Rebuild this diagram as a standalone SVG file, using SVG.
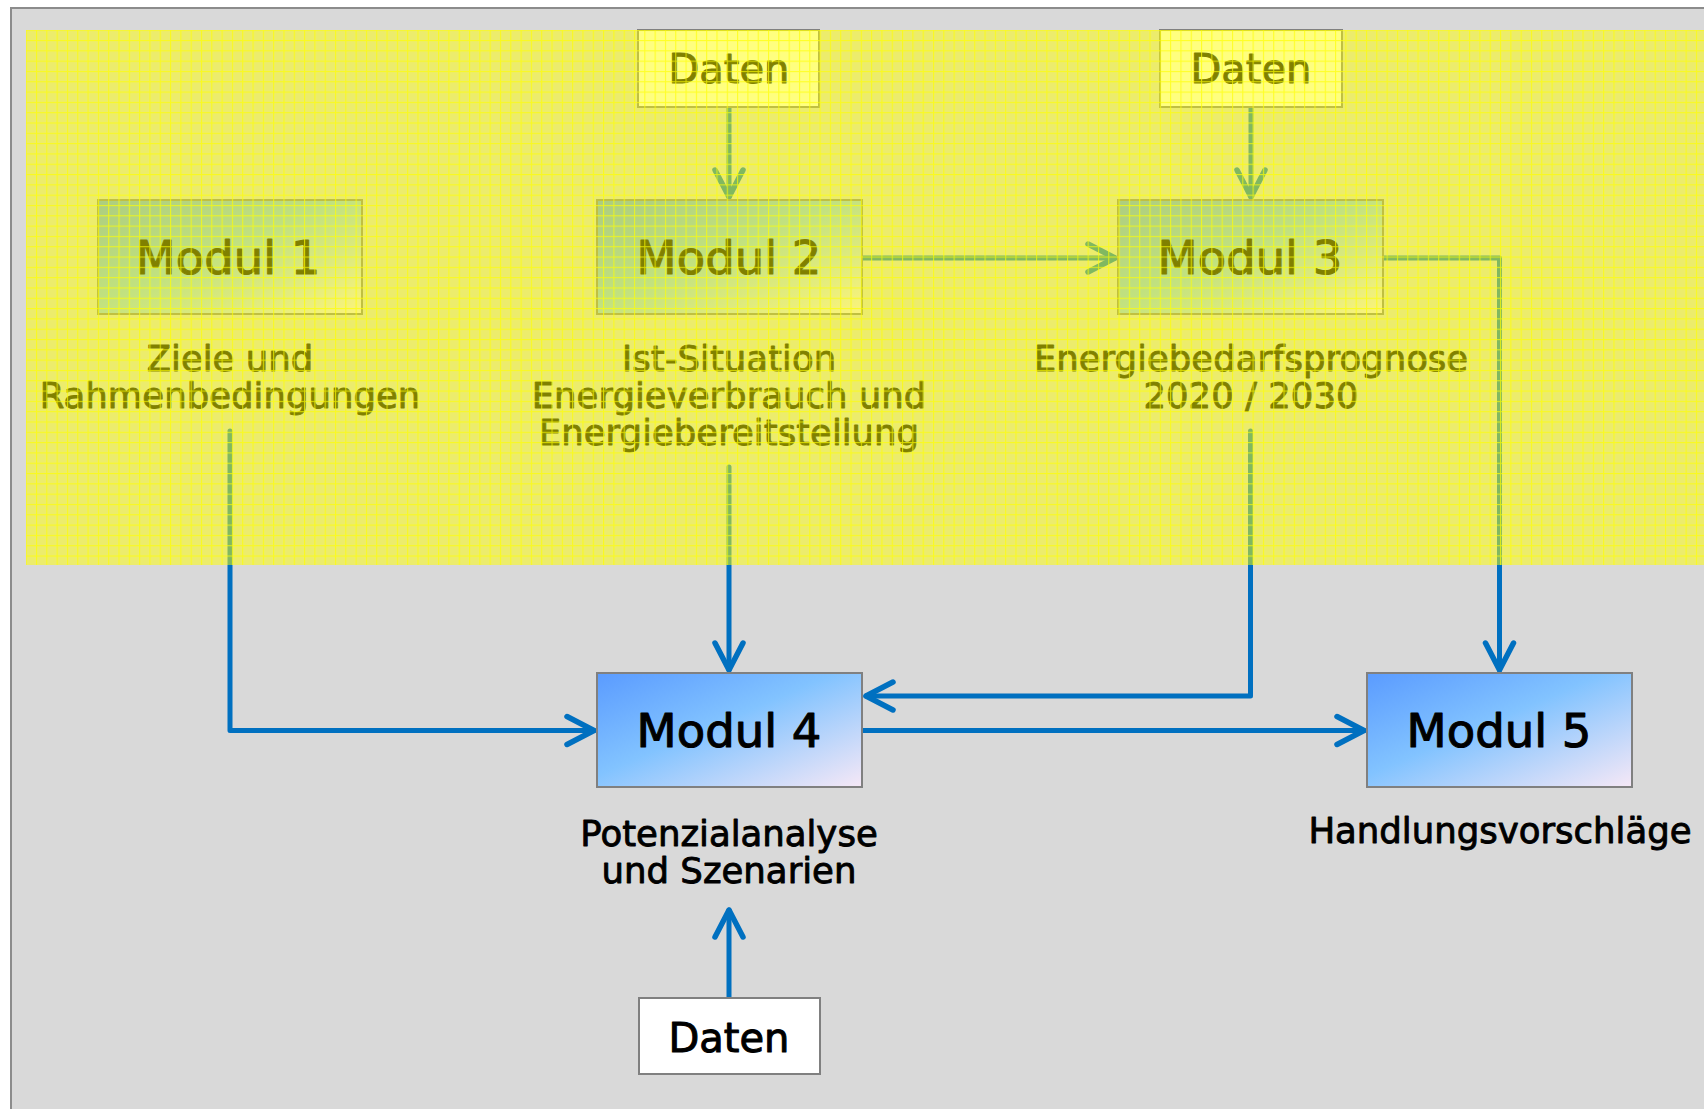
<svg xmlns="http://www.w3.org/2000/svg" width="1704" height="1109" viewBox="0 0 1704 1109">
  <style>
    .box { stroke: #808080; stroke-width: 2; }
    .mod { fill: url(#modGrad); }
    .dat { fill: #ffffff; }
    .t { font-family: "DejaVu Sans", "Open Sans", sans-serif; fill: #000000; stroke: #000000; stroke-width: 0.9; stroke-linejoin: round; text-anchor: middle; }
    .tm { font-size: 46.5px; stroke-width: 1.1; }
    .td { font-size: 40px; stroke-width: 1; }
    .tl { font-size: 35.5px; }
    .conn { fill: none; stroke: #0070c0; stroke-width: 5; stroke-linecap: round; stroke-linejoin: round; }
  </style>
  <defs>
    <linearGradient id="modGrad" x1="0" y1="0" x2="1" y2="1">
      <stop offset="0" stop-color="#5a9bff"/>
      <stop offset="0.45" stop-color="#82c3ff"/>
      <stop offset="1" stop-color="#f6e8f6"/>
    </linearGradient>
    <marker id="arr" viewBox="-32 -18 36 36" refX="0" refY="0" markerWidth="36" markerHeight="36" markerUnits="userSpaceOnUse" orient="auto">
      <path d="M-27,-14 L0,0 L-27,14" fill="none" stroke="#0070c0" stroke-width="5.5" stroke-linecap="round" stroke-linejoin="round"/>
    </marker>
    <pattern id="grid" x="36" y="40" width="10.31" height="10.31" patternUnits="userSpaceOnUse">
      <rect x="0" y="0" width="1.1" height="10.31" fill="#ffff00"/>
      <rect x="0" y="0" width="10.31" height="1.1" fill="#ffff00"/>
    </pattern>
  </defs>

  <rect x="0" y="0" width="1704" height="1109" fill="#ffffff"/>
  <rect x="11" y="8" width="1700" height="1110" fill="#d9d9d9" stroke="#8c8c8c" stroke-width="2"/>

  <g id="connectors">
    <path class="conn" marker-end="url(#arr)" d="M729,107 L729,197"/>
    <path class="conn" marker-end="url(#arr)" d="M1251,107 L1251,197"/>
    <path class="conn" marker-end="url(#arr)" d="M862,258 L1115,258"/>
    <path class="conn" marker-end="url(#arr)" d="M1383,258 L1499.5,258 L1499.5,670"/>
    <path class="conn" marker-end="url(#arr)" d="M230,431 L230,730.5 L594,730.5"/>
    <path class="conn" marker-end="url(#arr)" d="M729,467 L729,670"/>
    <path class="conn" marker-end="url(#arr)" d="M1250.5,431 L1250.5,696 L866,696"/>
    <path class="conn" marker-end="url(#arr)" d="M862,730.5 L1364,730.5"/>
    <path class="conn" marker-end="url(#arr)" d="M729,998 L729,910"/>
  </g>

  <g id="daten1">
    <rect class="box dat" x="638" y="30" width="181" height="77"/>
    <text class="t td" x="729" y="83">Daten</text>
  </g>
  <g id="daten2">
    <rect class="box dat" x="1160" y="30" width="182" height="77"/>
    <text class="t td" x="1251" y="83">Daten</text>
  </g>
  <g id="modul1">
    <rect class="box mod" x="98" y="200" width="264" height="114"/>
    <text class="t tm" x="228" y="274">Modul 1</text>
  </g>
  <g id="modul2">
    <rect class="box mod" x="597" y="200" width="265" height="114"/>
    <text class="t tm" x="729" y="274">Modul 2</text>
  </g>
  <g id="modul3">
    <rect class="box mod" x="1118" y="200" width="265" height="114"/>
    <text class="t tm" x="1250" y="274">Modul 3</text>
  </g>
  <g id="label1">
    <text class="t tl" x="230" y="371">Ziele und</text>
    <text class="t tl" x="230" y="408">Rahmenbedingungen</text>
  </g>
  <g id="label2">
    <text class="t tl" x="729" y="371">Ist-Situation</text>
    <text class="t tl" x="729" y="408">Energieverbrauch und</text>
    <text class="t tl" x="729" y="445">Energiebereitstellung</text>
  </g>
  <g id="label3">
    <text class="t tl" x="1251" y="371">Energiebedarfsprognose</text>
    <text class="t tl" x="1251" y="408">2020 / 2030</text>
  </g>
  <g id="modul4">
    <rect class="box mod" x="597" y="673" width="265" height="114"/>
    <text class="t tm" x="729" y="747">Modul 4</text>
  </g>
  <g id="modul5">
    <rect class="box mod" x="1367" y="673" width="265" height="114"/>
    <text class="t tm" x="1499" y="747">Modul 5</text>
  </g>
  <g id="label4">
    <text class="t tl" x="729" y="846">Potenzialanalyse</text>
    <text class="t tl" x="729" y="883">und Szenarien</text>
  </g>
  <g id="label5">
    <text class="t tl" x="1500" y="843">Handlungsvorschläge</text>
  </g>
  <g id="daten3">
    <rect class="box dat" x="639" y="998" width="181" height="76"/>
    <text class="t td" x="729" y="1052">Daten</text>
  </g>

  <g id="overlay">
    <rect x="26" y="30" width="1678" height="535" fill="#ffff00" fill-opacity="0.5"/>
    <rect x="26" y="30" width="1678" height="535" fill="url(#grid)" opacity="0.7"/>
  </g>
</svg>
